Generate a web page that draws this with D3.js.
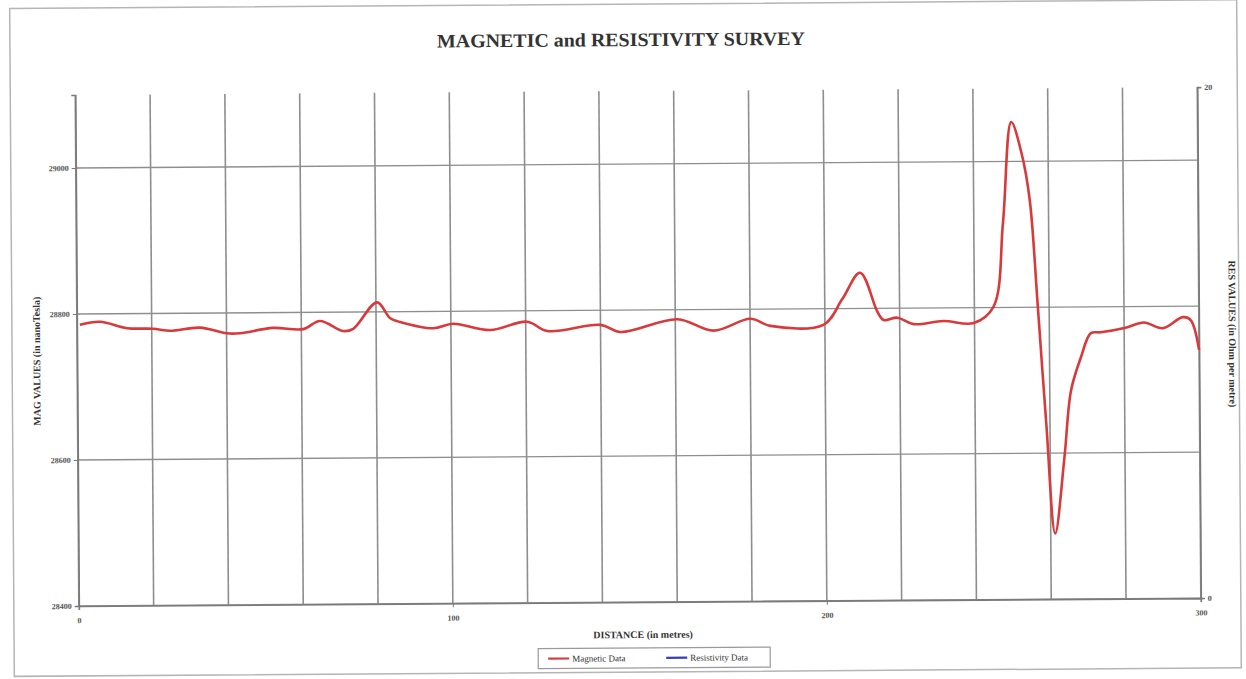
<!DOCTYPE html>
<html lang="en">
<head>
<meta charset="utf-8">
<title>MAGNETIC and RESISTIVITY SURVEY</title>
<script src="https://d3js.org/d3.v7.min.js"></script>
<style>
  body { margin: 0; background: #fff; }
  text { font-family: "Liberation Serif", "DejaVu Serif", serif; }
</style>
</head>
<body>
<svg id="chart" width="1246" height="679"></svg>
<script>
// distance (m) and magnetic reading (nT)
let distance = [0.8, 6.2, 13.4, 20.3, 24.9, 32.9, 40.1, 43.6, 52.4, 60.5, 65, 71.2, 73.9, 80.3, 83.8, 86.4,
  95.3, 100.6, 110.5, 120.4, 125.8, 140, 145.3, 160.6, 170.2, 180.1, 185.4, 199.6, 204.7, 209.5, 214.1,
  215.7, 219.4, 223.7, 231.7, 239.8, 245.1, 247.8, 250.2, 252.9, 255, 256.9, 259, 261.2, 263.8, 265.7,
  268.4, 271.1, 273.7, 280.4, 285.3, 290.3, 295.7, 297.8, 300];
let magValues = [28785, 28789, 28780, 28779, 28776, 28780, 28772, 28772, 28779, 28777, 28788, 28774, 28777,
  28813, 28791, 28786, 28777, 28783, 28774, 28785, 28772, 28780, 28770, 28787, 28771, 28787, 28777, 28778,
  28813, 28849, 28795, 28784, 28787, 28778, 28782, 28779, 28801, 28916, 29054, 29011, 28947, 28806, 28641,
  28490, 28594, 28686, 28731, 28764, 28765, 28771, 28778, 28770, 28785, 28781, 28740];
let resValues = []; // resistivity series is listed in the legend but not drawn in the scan

let magTicks = [28400, 28600, 28800, 29000];
let resTicks = [0, 20];
let distTicks = [0, 100, 200, 300];
let gridDist = d3.range(0, 301, 20);
let series = [
  { name: "Magnetic Data", color: "#d83a3c" },
  { name: "Resistivity Data", color: "#3a3fb0" }
];

let svg = d3.select("#chart");
let pLeft = 77, pRight = 1199, pTop = 91, pBottom = 602;

let x = d3.scaleLinear().domain([0, 300]).range([pLeft, pRight]);
let yMag = d3.scaleLinear().domain([28400, 29100]).range([pBottom, pTop]);
let yRes = d3.scaleLinear().domain([0, 20]).range([pBottom, pTop]);

// the scan is slightly tilted
let g = svg.append("g").attr("transform", "rotate(-0.4, 640, 340)");

g.append("rect").attr("x", 12).attr("y", 4).attr("width", 1227).attr("height", 668)
  .attr("fill", "none").attr("stroke", "#b5b5b5").attr("stroke-width", 1.5);

g.append("text").attr("x", 623).attr("y", 46).attr("text-anchor", "middle")
  .attr("textLength", 368).attr("lengthAdjust", "spacingAndGlyphs")
  .style("font-size", "19px").style("font-weight", "bold").attr("fill", "#333")
  .text("MAGNETIC and RESISTIVITY SURVEY");

// grid
g.selectAll(".vgrid").data(gridDist).enter().append("line")
  .attr("x1", d => x(d)).attr("x2", d => x(d)).attr("y1", pTop).attr("y2", pBottom)
  .attr("stroke", "#8e8e8e").attr("stroke-width", 1.6);
g.selectAll(".hgrid").data(magTicks).enter().append("line")
  .attr("x1", pLeft).attr("x2", pRight).attr("y1", d => yMag(d)).attr("y2", d => yMag(d))
  .attr("stroke", "#8e8e8e").attr("stroke-width", 1.4);

// axes
let axisL = g.append("g").attr("transform", `translate(${pLeft},0)`)
  .call(d3.axisLeft(yMag).tickValues(magTicks).tickSize(4).tickFormat(d3.format("d")));
let axisR = g.append("g").attr("transform", `translate(${pRight},0)`)
  .call(d3.axisRight(yRes).tickValues(resTicks).tickSize(4));
let axisB = g.append("g").attr("transform", `translate(0,${pBottom})`)
  .call(d3.axisBottom(x).tickValues(distTicks).tickSize(4));
[axisL, axisR, axisB].forEach(a => {
  a.select(".domain").attr("stroke", "#7a7a7a").attr("stroke-width", 1.6);
  a.selectAll(".tick line").attr("stroke", "#7a7a7a");
  a.selectAll(".tick text").attr("fill", "#555").style("font-size", "8px").style("font-weight", "bold")
    .style("font-family", "'Liberation Serif', serif");
});
axisB.selectAll(".tick text").attr("dy", "1.3em");

// magnetic line
let line = d3.line().x((d, i) => x(distance[i])).y(d => yMag(d)).curve(d3.curveCatmullRom.alpha(0.5));
g.append("path").datum(magValues).attr("d", line)
  .attr("fill", "none").attr("stroke", series[0].color).attr("stroke-width", 2.6)
  .attr("stroke-linejoin", "round");

// axis titles
g.append("text").attr("x", 641).attr("y", 638).attr("text-anchor", "middle")
  .style("font-size", "10px").style("font-weight", "bold").attr("fill", "#333")
  .text("DISTANCE (in metres)");
g.append("text").attr("transform", "translate(40,357) rotate(-90)").attr("text-anchor", "middle")
  .style("font-size", "10px").style("font-weight", "bold").attr("fill", "#333")
  .text("MAG VALUES (in nanoTesla)");
g.append("text").attr("transform", "translate(1229,338) rotate(90)").attr("text-anchor", "middle")
  .style("font-size", "10px").style("font-weight", "bold").attr("fill", "#333")
  .text("RES VALUES (in Ohm per metre)");

// legend
let leg = g.append("g").attr("transform", "translate(536,648)");
leg.append("rect").attr("width", 232).attr("height", 20).attr("fill", "#fff")
  .attr("stroke", "#9a9a9a").attr("stroke-width", 1.2);
let item = leg.selectAll(".item").data(series).enter().append("g")
  .attr("transform", (d, i) => `translate(${10 + i * 118},10)`);
item.append("line").attr("x1", 0).attr("x2", 21).attr("stroke", d => d.color).attr("stroke-width", 2.2);
item.append("text").attr("x", 24).attr("dy", "0.35em").style("font-size", "9px").attr("fill", "#333")
  .text(d => d.name);
</script>
</body>
</html>
